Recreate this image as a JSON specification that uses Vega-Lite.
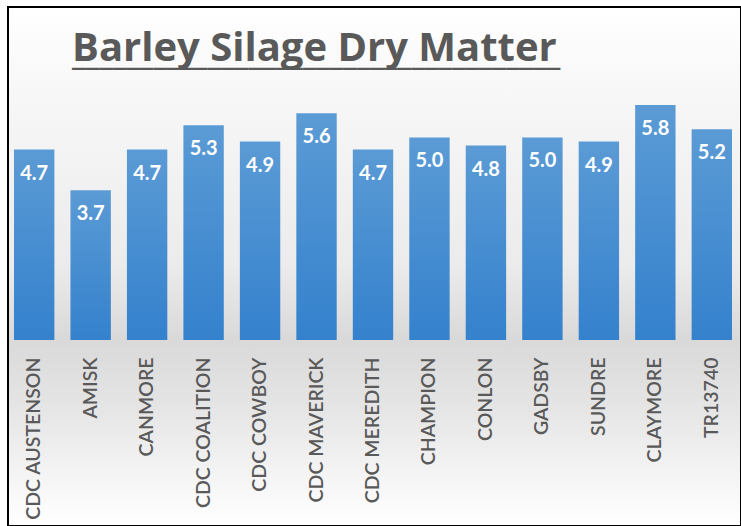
{
  "$schema": "https://vega.github.io/schema/vega-lite/v6.json",
  "width": 733,
  "height": 519,
  "autosize": {"type": "none"},
  "padding": {"left": 8, "top": 7, "right": 0, "bottom": 0},
  "background": "#ffffff",
  "title": {
    "text": "Barley Silage Dry Matter",
    "subtitle": "____________________________________",
    "anchor": "start",
    "orient": "top",
    "frame": "group",
    "offset": -97,
    "dx": 64,
    "baseline": "alphabetic",
    "font": "Open Sans",
    "fontSize": 40,
    "fontWeight": "bold",
    "color": "#595959",
    "subtitleFont": "Open Sans",
    "subtitleFontSize": 33,
    "subtitleFontWeight": "bold",
    "subtitleColor": "#595959",
    "subtitlePadding": -36
  },
  "data": {
    "values": [
      {"variety": "CDC AUSTENSON", "dm": 4.7},
      {"variety": "AMISK", "dm": 3.7},
      {"variety": "CANMORE", "dm": 4.7},
      {"variety": "CDC COALITION", "dm": 5.3},
      {"variety": "CDC COWBOY", "dm": 4.9},
      {"variety": "CDC MAVERICK", "dm": 5.6},
      {"variety": "CDC MEREDITH", "dm": 4.7},
      {"variety": "CHAMPION", "dm": 5.0},
      {"variety": "CONLON", "dm": 4.8},
      {"variety": "GADSBY", "dm": 5.0},
      {"variety": "SUNDRE", "dm": 4.9},
      {"variety": "CLAYMORE", "dm": 5.8},
      {"variety": "TR13740", "dm": 5.2}
    ]
  },
  "encoding": {
    "x": {
      "field": "variety",
      "type": "nominal",
      "sort": null,
      "title": null,
      "scale": {"range": [6, 724], "paddingInner": 0.285, "paddingOuter": 0},
      "axis": {
        "orient": "bottom",
        "offset": -186,
        "domain": false,
        "ticks": false,
        "labelAngle": -90,
        "labelAlign": "right",
        "labelBaseline": "middle",
        "labelPadding": 17,
        "labelFont": "Lato",
        "labelFontSize": 19.5,
        "labelFontWeight": 600,
        "labelColor": "#595959",
        "grid": false
      }
    },
    "y": {
      "field": "dm",
      "type": "quantitative",
      "title": null,
      "scale": {"domain": [-4.59, 8.22], "nice": false, "zero": false},
      "axis": null
    }
  },
  "layer": [
    {
      "mark": {
        "type": "bar",
        "color": {
          "gradient": "linear",
          "x1": 0, "y1": 0, "x2": 0, "y2": 1,
          "stops": [
            {"offset": 0, "color": "#5b9bd5"},
            {"offset": 1, "color": "#3481cd"}
          ]
        }
      },
      "encoding": {"y2": {"datum": 0}}
    },
    {
      "mark": {
        "type": "text",
        "baseline": "middle",
        "align": "center",
        "dy": 24,
        "font": "Lato",
        "fontSize": 20,
        "fontWeight": "bold",
        "color": "#ffffff"
      },
      "encoding": {"text": {"field": "dm", "type": "quantitative", "format": ".1f"}}
    }
  ],
  "config": {
    "view": {
      "stroke": "#000000",
      "strokeWidth": 2,
      "fill": {
        "gradient": "linear",
        "x1": 0, "y1": 0, "x2": 0, "y2": 1,
        "stops": [
          {"offset": 0, "color": "#ffffff"},
          {"offset": 0.15, "color": "#f8f8f8"},
          {"offset": 0.5, "color": "#ebebeb"},
          {"offset": 0.64, "color": "#d9d9d9"},
          {"offset": 0.78, "color": "#e6e6e6"},
          {"offset": 0.96, "color": "#fbfbfb"},
          {"offset": 1, "color": "#ffffff"}
        ]
      }
    }
  }
}
